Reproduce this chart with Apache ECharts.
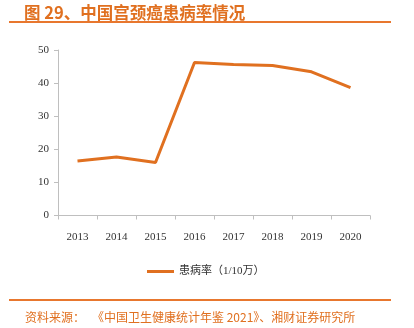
<!DOCTYPE html>
<html>
<head>
<meta charset="utf-8">
<script src="https://cdn.jsdelivr.net/npm/echarts@6/dist/echarts.min.js"></script>
<style>
  html, body { margin: 0; padding: 0; background: #fff; }
  #wrap { position: relative; width: 414px; height: 328px; overflow: hidden; }
  #chart { position: absolute; left: 0; top: 0; width: 414px; height: 328px; }
  .rule { position: absolute; left: 9px; width: 382px; height: 2px; background: #E8772E; }
</style>
</head>
<body>
<div id="wrap">
  <div id="chart"></div>
  <div class="rule" style="top:21px"></div>
  <div class="rule" style="top:299px"></div>
</div>
<script>
// 宫颈癌患病率（1/10万），2013–2020
const years = ['2013', '2014', '2015', '2016', '2017', '2018', '2019', '2020'];
const prevalence = [16.5, 17.7, 16.0, 46.2, 45.6, 45.3, 43.4, 38.6];
const yTicks = [0, 10, 20, 30, 40, 50];

const orange = '#E07020';
const serif = '"Liberation Serif", "Noto Sans CJK SC", serif';
const cjk = '"Noto Sans CJK SC", sans-serif';

const chart = echarts.init(document.getElementById('chart'), null, { renderer: 'canvas' });
chart.setOption({
  animation: false,
  title: [
    {
      text: '图 29、中国宫颈癌患病率情况',
      left: 19, top: -1,
      textStyle: { color: orange, fontSize: 16.5, fontWeight: 'bold', fontFamily: cjk }
    },
    {
      text: '资料来源：',
      left: 20, top: 306,
      textStyle: { color: orange, fontSize: 12, fontWeight: 'normal', fontFamily: cjk }
    },
    {
      text: '《中国卫生健康统计年鉴 2021》、湘财证券研究所',
      left: 87, top: 306,
      textStyle: { color: orange, fontSize: 12, fontWeight: 'normal', fontFamily: cjk }
    }
  ],
  legend: {
    data: ['患病率（1/10万）'],
    left: 142, top: 261,
    itemWidth: 27, itemHeight: 3, itemGap: 5,
    icon: 'rect',
    textStyle: { color: '#333', fontSize: 11, fontFamily: serif }
  },
  grid: { left: 58, right: 44, top: 50, bottom: 112.5, containLabel: false },
  xAxis: {
    type: 'category',
    data: years,
    boundaryGap: true,
    axisLine: { lineStyle: { color: '#BFBFBF', width: 1 } },
    axisTick: { show: true, alignWithLabel: false, length: 4, lineStyle: { color: '#BFBFBF' } },
    axisLabel: { color: '#333', fontSize: 11, fontFamily: serif, margin: 16 }
  },
  yAxis: {
    type: 'value',
    min: yTicks[0], max: yTicks[yTicks.length - 1], interval: 10,
    axisLine: { show: true, lineStyle: { color: '#BFBFBF', width: 1 } },
    axisTick: { show: true, length: 4, lineStyle: { color: '#BFBFBF' } },
    splitLine: { show: false },
    axisLabel: { color: '#333', fontSize: 11, fontFamily: serif, margin: 9 }
  },
  series: [{
    name: '患病率（1/10万）',
    type: 'line',
    data: prevalence,
    symbol: 'none',
    lineStyle: { color: orange, width: 3 },
    itemStyle: { color: orange }
  }]
});
</script>
</body>
</html>
